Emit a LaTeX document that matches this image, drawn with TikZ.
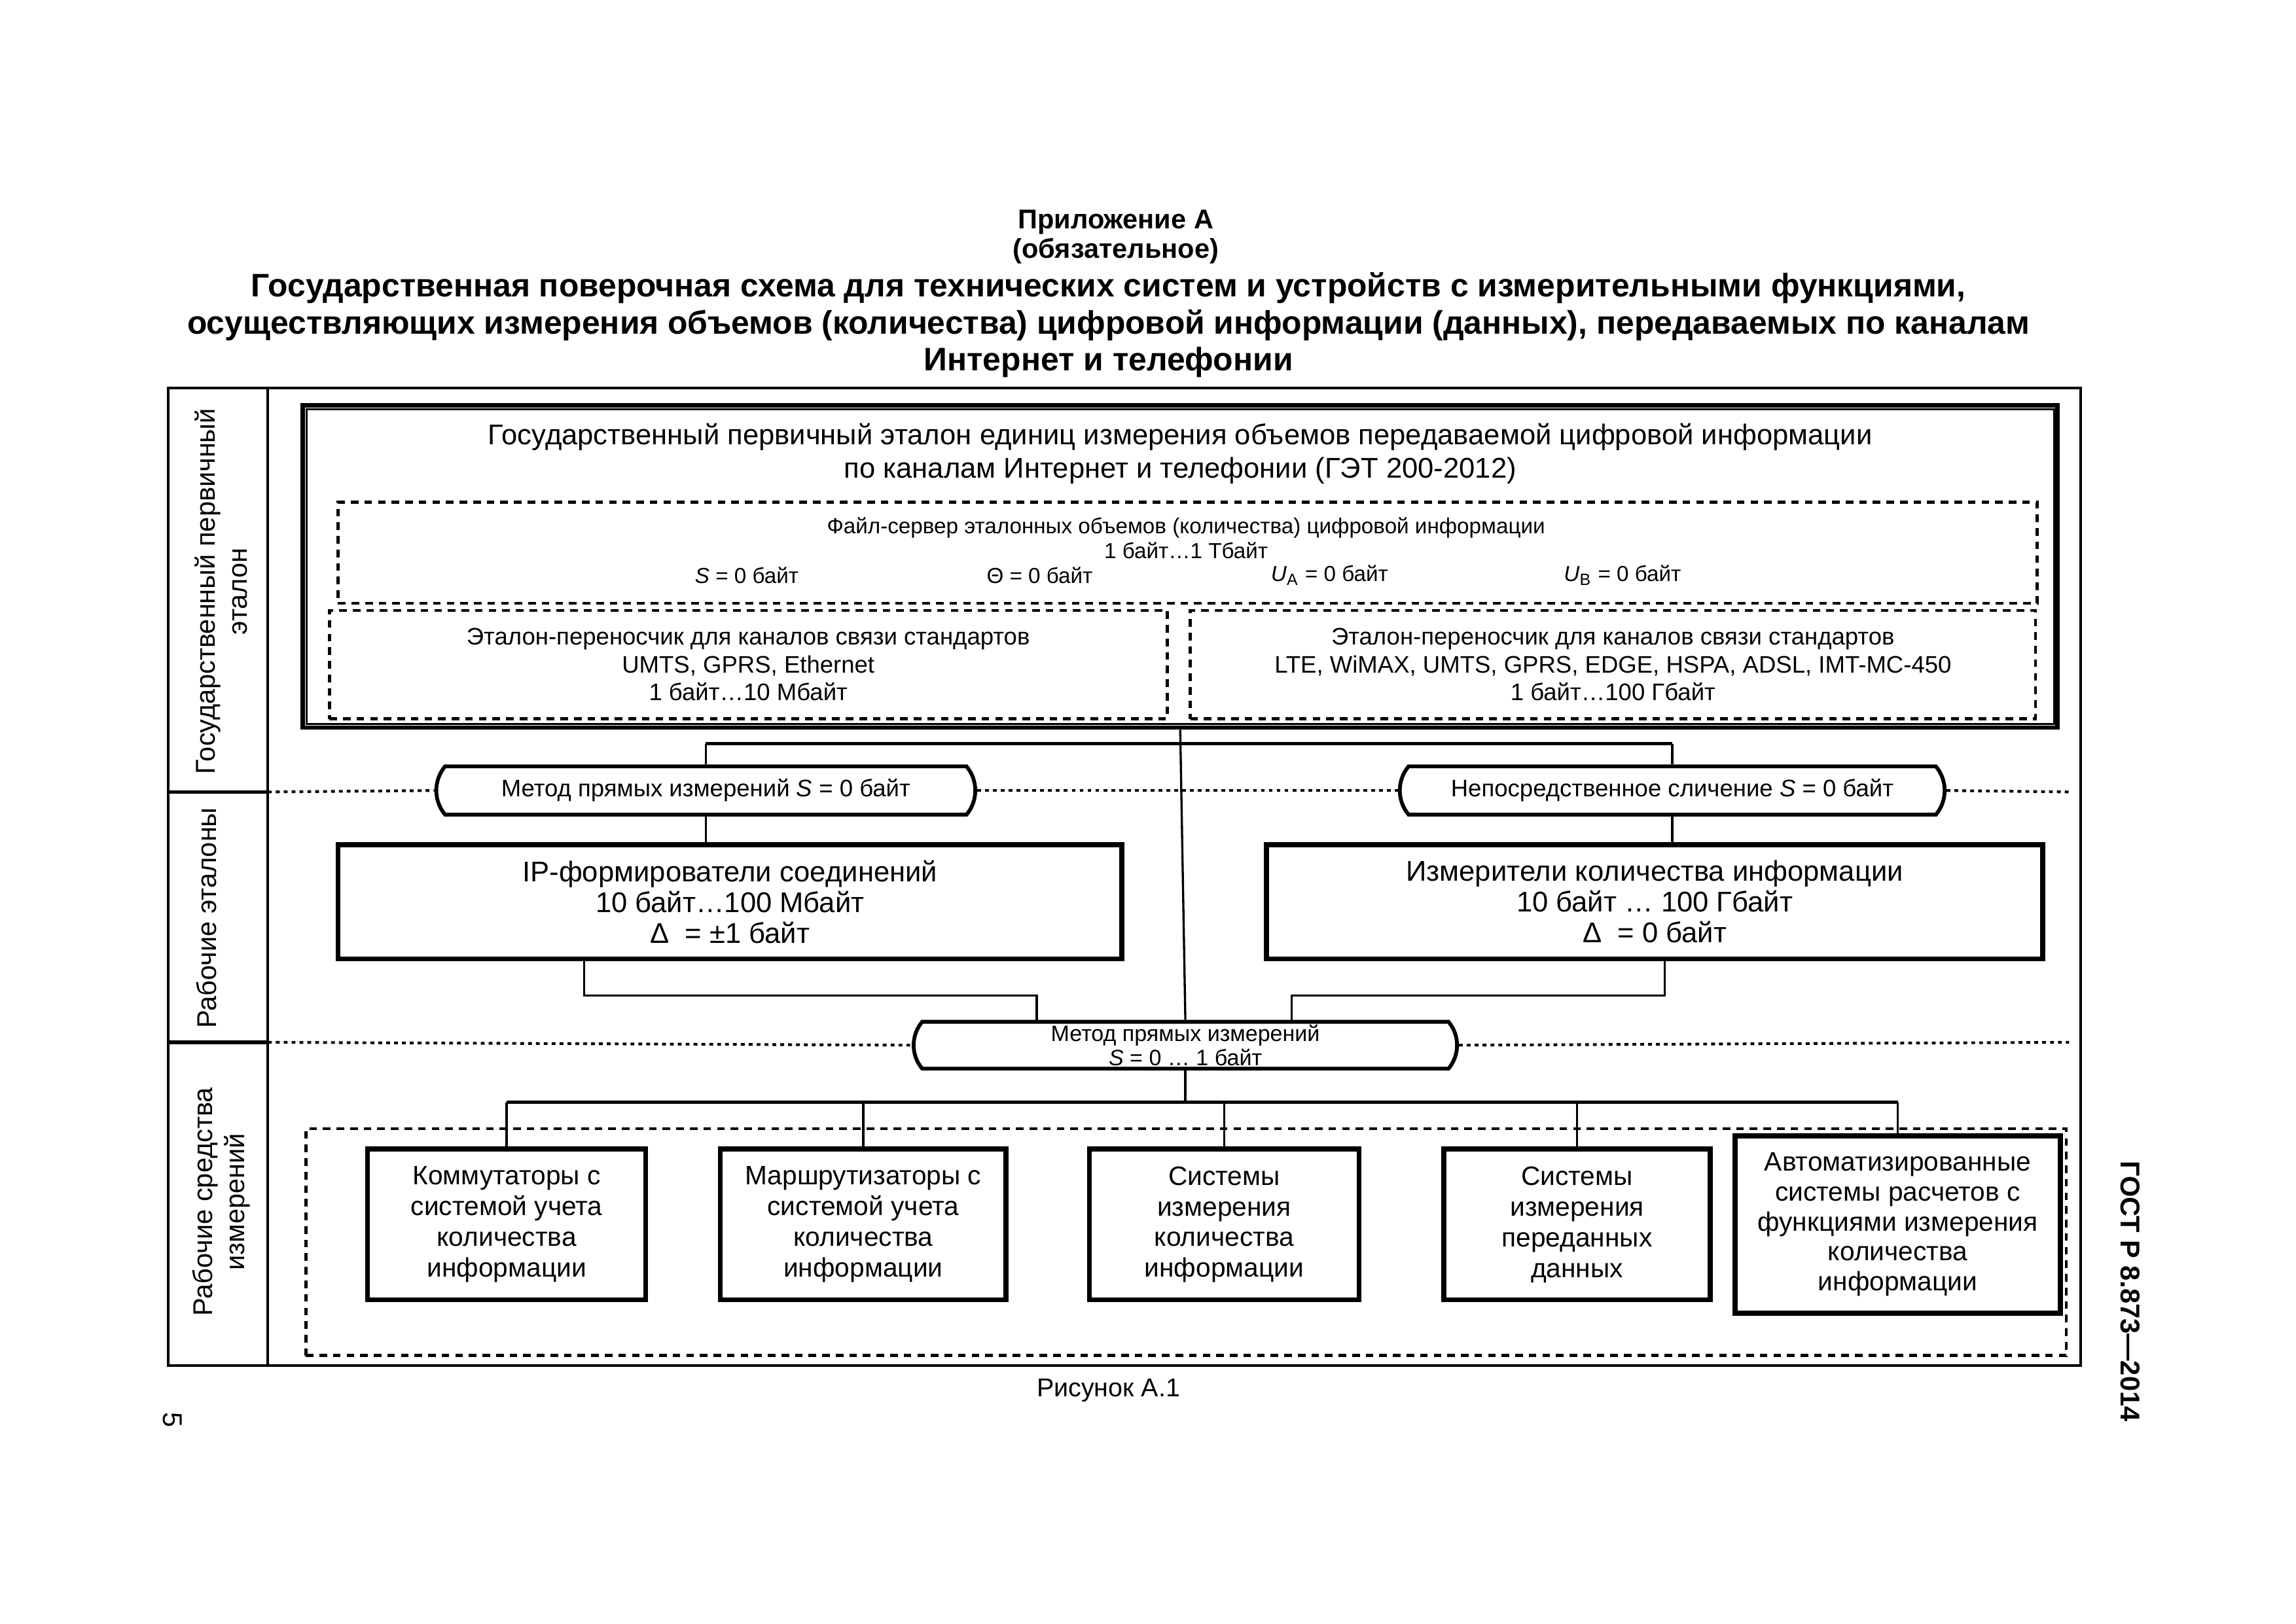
\documentclass[tikz,border=0pt]{standalone}
\usepackage{fontspec}
\setmainfont{Liberation Sans}
\usetikzlibrary{positioning,calc,shapes.misc}

\begin{document}
\begin{tikzpicture}[
  x=0.018941cm, y=-0.018941cm,
  outer/.style={line width=1pt},
  hdr/.style={line width=1.3pt},
  gbox/.style={rectangle,draw,line width=1.6pt,inner sep=0pt},
  dbox/.style={rectangle,draw,line width=1.1pt,dash pattern=on 2.8pt off 2.2pt,inner sep=0pt,align=center},
  wbox/.style={rectangle,draw,line width=1.8pt,inner sep=0pt,align=center,font=\fontsize{10.5}{11.3}\selectfont},
  sbox/.style={wbox,font=\fontsize{9.8}{11.3}\selectfont},
  pill/.style={rounded rectangle,rounded rectangle arc length=80,draw,line width=1.4pt,inner sep=0pt,align=center,font=\fontsize{8.8}{10}\selectfont},
  sepline/.style={line width=1pt,dash pattern=on 1.4pt off 1.5pt},
  conn/.style={line width=0.8pt},
  bus/.style={line width=1.1pt},
  lvl/.style={rotate=90,align=center,font=\fontsize{10}{11.8}\selectfont}
]
  \useasboundingbox (0,0) rectangle (1568,1109);

  % heading
  \node[align=center,font=\bfseries\fontsize{10}{10.8}\selectfont] (app) at (762,162) {Приложение А\\(обязательное)};
  \node[align=center,font=\bfseries\fontsize{12}{13.7}\selectfont] (title) at (757,222) {Государственная поверочная схема для технических систем и устройств с измерительными функциями,\\осуществляющих измерения объемов (количества) цифровой информации (данных), передаваемых по каналам\\Интернет и телефонии};

  % frame and levels
  \draw[outer] (115,265) rectangle (1421,933);
  \draw[outer] (183,265) -- (183,933);
  \draw[hdr] (115,541) -- (183,541);
  \draw[hdr] (115,712) -- (183,712);
  \node[lvl] (lev1) at (151,404) {Государственный первичный\\эталон};
  \node[lvl] (lev2) at (141,627) {Рабочие эталоны};
  \node[lvl] (lev3) at (151,821) {Рабочие средства\\измерений};

  % primary standard
  \node[gbox,minimum width=22.691cm,minimum height=4.167cm] (get) at (806,387) {};
  \draw[line width=0.7pt] ($(get.north west)+(4,4)$) rectangle ($(get.south east)+(-4,-4)$);
  \node[align=center,font=\fontsize{10.5}{12.4}\selectfont] (gettitle) at (806,310) {Государственный первичный эталон единиц измерения объемов передаваемой цифровой информации\\по каналам Интернет и телефонии (ГЭТ 200-2012)};
  \node[dbox,minimum width=21.972cm,minimum height=1.307cm] (fs) at (811,377.5) {};
  \node[align=center,font=\fontsize{8}{9.1}\selectfont] (fstext) at (810,367.5) {Файл-сервер эталонных объемов (количества) цифровой информации\\1 байт…1 Тбайт};
  \node[font=\fontsize{8}{9.1}\selectfont] (vs) at (510,393) {\textit{S} = 0 байт};
  \node[font=\fontsize{8}{9.1}\selectfont] (vt) at (710,393) {Θ = 0 байт};
  \node[font=\fontsize{8}{9.1}\selectfont] (vua) at (908,393) {\textit{U}\textsubscript{А} = 0 байт};
  \node[font=\fontsize{8}{9.1}\selectfont] (vub) at (1108,393) {\textit{U}\textsubscript{В} = 0 байт};
  \node[dbox,minimum width=10.834cm,minimum height=1.402cm,font=\fontsize{8.8}{10.2}\selectfont] (tl) at (511,454) {Эталон-переносчик для каналов связи стандартов\\UMTS, GPRS, Ethernet\\1 байт…10 Мбайт};
  \node[dbox,minimum width=10.929cm,minimum height=1.402cm,font=\fontsize{8.8}{10.2}\selectfont] (tr) at (1101.5,454) {Эталон-переносчик для каналов связи стандартов\\LTE, WiMAX, UMTS, GPRS, EDGE, HSPA, ADSL, IMT-MC-450\\1 байт…100 Гбайт};

  % working standards
  \node[pill,minimum width=6.970cm,minimum height=0.625cm] (p1) at (482,540) {Метод прямых измерений \textit{S} = 0 байт};
  \node[pill,minimum width=7.046cm,minimum height=0.625cm] (p2) at (1142,540) {Непосредственное сличение \textit{S} = 0 байт};
  \node[wbox,minimum width=10.133cm,minimum height=1.477cm] (ip) at (498.5,616) {IP-формирователи соединений\\10 байт…100 Мбайт\\Δ~ = ±1 байт};
  \node[wbox,minimum width=10.039cm,minimum height=1.477cm] (meas) at (1130,616) {Измерители количества информации\\10 байт … 100 Гбайт\\Δ~ = 0 байт};
  \node[pill,minimum width=7.027cm,minimum height=0.606cm,font=\fontsize{8.2}{8.8}\selectfont] (p3) at (809.5,714) {Метод прямых измерений\\\textit{S} = 0 … 1 байт};

  % working measuring instruments
  \node[dbox,minimum width=22.767cm,minimum height=2.936cm] (tools) at (810,848.5) {};
  \node[sbox,minimum width=3.599cm,minimum height=1.951cm] (b1) at (346,836.5) {Коммутаторы с\\системой учета\\количества\\информации};
  \node[sbox,minimum width=3.693cm,minimum height=1.951cm] (b2) at (589.5,836.5) {Маршрутизаторы с\\системой учета\\количества\\информации};
  \node[sbox,minimum width=3.485cm,minimum height=1.951cm] (b3) at (836,836.5) {Системы\\измерения\\количества\\информации};
  \node[sbox,minimum width=3.447cm,minimum height=1.951cm] (b4) at (1077,836.5) {Системы\\измерения\\переданных\\данных};
  \node[sbox,minimum width=4.205cm,minimum height=2.292cm,font=\fontsize{9.8}{11}\selectfont] (b5) at (1296,836.5) {Автоматизированные\\системы расчетов с\\функциями измерения\\количества\\информации};

  % level separators
  \draw[sepline] (183,541) -- (p1.west);
  \draw[sepline] (p1.east) -- (p2.west);
  \draw[sepline] (p2.east) -- (1413,541);
  \draw[sepline] (183,712) -- (p3.west);
  \draw[sepline] (p3.east) -- (1413,712);

  % connections
  \coordinate (ub) at (0,508);
  \coordinate (ipd) at (399,680);
  \coordinate (p3l) at (708,680);
  \coordinate (msd) at (1137,680);
  \coordinate (p3r) at (882,680);
  \coordinate (lb) at (0,753);
  \draw[conn] (get.south) -- (p3.north);
  \draw[bus] (p1.north |- ub) -- (p2.north |- ub);
  \draw[conn] (p1.north) -- (p1.north |- ub);
  \draw[conn] (p2.north) -- (p2.north |- ub);
  \draw[conn] (p1.south) -- (p1.south |- ip.north);
  \draw[conn] (p2.south) -- (p2.south |- meas.north);
  \draw[conn] (ip.south -| ipd) -- (ipd) -- (p3l) -- (p3l |- p3.north);
  \draw[conn] (meas.south -| msd) -- (msd) -- (p3r) -- (p3r |- p3.north);
  \draw[conn] (p3.south) -- (p3.south |- lb);
  \draw[bus] (b1.north |- lb) -- (b5.north |- lb);
  \foreach \b in {b1,b2,b3,b4,b5}
    \draw[conn] (\b.north) -- (\b.north |- lb);

  % footer
  \node[font=\fontsize{9.5}{11}\selectfont] (fig) at (757,950) {Рисунок А.1};
  \node[rotate=-90,font=\bfseries\fontsize{10}{12}\selectfont] (gost) at (1455,882) {ГОСТ Р 8.873—2014};
  \node[rotate=-90,font=\fontsize{10}{12}\selectfont] (pg) at (118,970) {5};
\end{tikzpicture}
\end{document}
